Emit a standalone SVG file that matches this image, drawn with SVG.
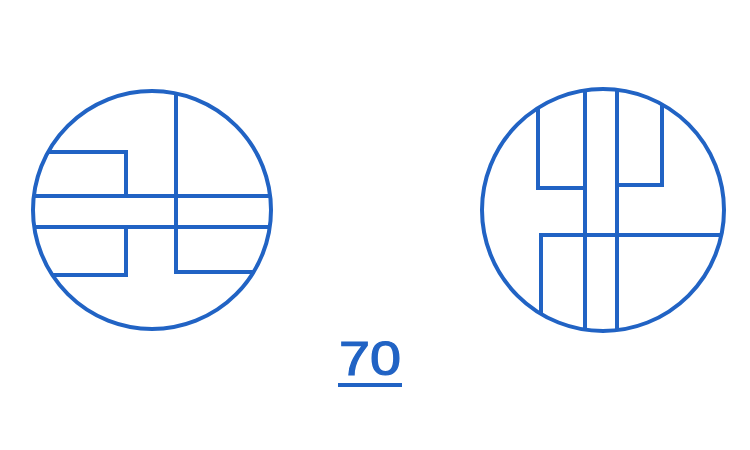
<svg xmlns="http://www.w3.org/2000/svg" width="750" height="450" viewBox="0 0 750 450">
<style>
.s{fill:none;stroke:#2163c4;stroke-width:4;stroke-linejoin:miter}
.t{font-family:"Liberation Sans",Arial,sans-serif;font-size:49px;fill:#2163c4;stroke:#2163c4;stroke-width:1.2}
</style>
<rect width="750" height="450" fill="#ffffff"/>
<defs>
<clipPath id="cl"><circle cx="152" cy="210" r="119"/></clipPath>
<clipPath id="cr"><circle cx="603" cy="210" r="121"/></clipPath>
</defs>
<g id="left-symbol">
<circle class="s" cx="152" cy="210" r="119"/>
<g clip-path="url(#cl)">
<path class="s" d="M176,80 V272 H280"/>
<path class="s" d="M20,196 H290"/>
<path class="s" d="M20,227 H290"/>
<path class="s" d="M20,152 H126 V196"/>
<path class="s" d="M126,227 V275 H20"/>
</g>
</g>
<g id="right-symbol">
<circle class="s" cx="603" cy="210" r="121"/>
<g clip-path="url(#cr)">
<path class="s" d="M585,80 V340"/>
<path class="s" d="M617,80 V340"/>
<path class="s" d="M538,80 V188 H585"/>
<path class="s" d="M662,80 V185 H617"/>
<path class="s" d="M740,235 H541 V340"/>
</g>
</g>
<g id="label">
<text class="t" x="339" y="375" textLength="62" lengthAdjust="spacingAndGlyphs">70</text>
<line x1="338" y1="385" x2="402" y2="385" stroke="#2163c4" stroke-width="4"/>
</g>
</svg>
